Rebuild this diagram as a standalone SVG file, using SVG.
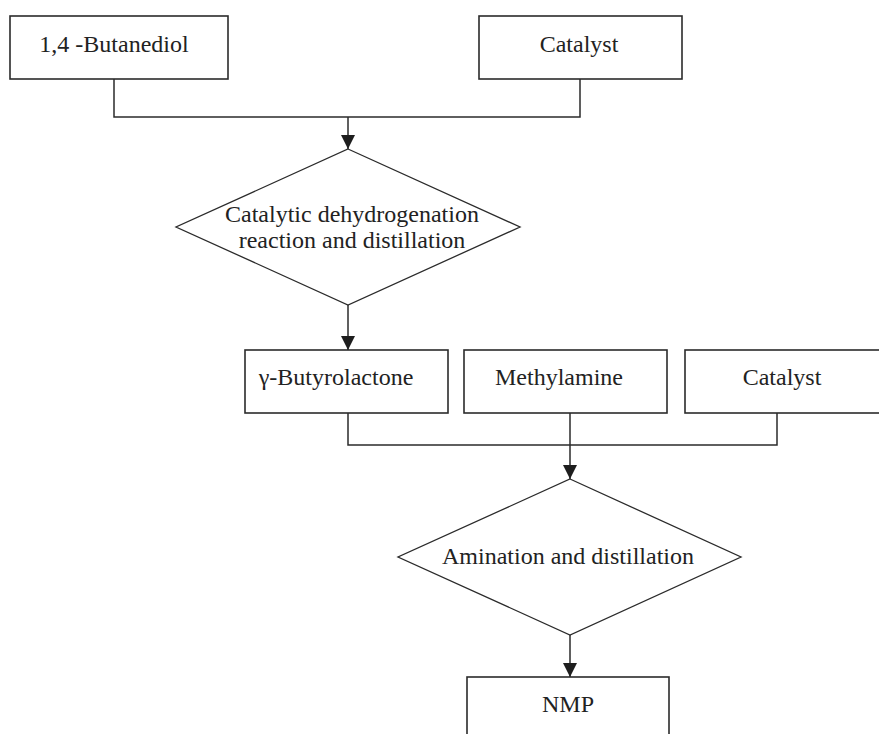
<svg xmlns="http://www.w3.org/2000/svg" width="879" height="734" viewBox="0 0 879 734">
  <style>
    .box { fill: #ffffff; stroke: #2b2b2b; stroke-width: 1.6; }
    .dia { fill: #ffffff; stroke: #2b2b2b; stroke-width: 1.3; }
    .lbl { font-family: "Liberation Serif", "Times New Roman", serif; font-size: 24px; fill: #222222; text-anchor: middle; }
    .wire { fill: none; stroke: #2b2b2b; stroke-width: 1.5; }
  </style>
  <defs>
    <marker id="arrow" markerUnits="userSpaceOnUse" markerWidth="14" markerHeight="17" refX="14" refY="7" orient="auto" viewBox="0 0 14 14">
      <path d="M0,0 L14,7 L0,14 Z" fill="#1e1e1e"/>
    </marker>
  </defs>
  <rect width="879" height="734" fill="#ffffff"/>

  <!-- connectors -->
  <g id="connectors">
    <polyline class="wire" points="114,79 114,117 580,117 580,79"/>
    <line class="wire" x1="348" y1="117" x2="348" y2="149" marker-end="url(#arrow)"/>
    <line class="wire" x1="348" y1="305" x2="348" y2="350" marker-end="url(#arrow)"/>
    <polyline class="wire" points="348,413 348,445 777,445 777,413"/>
    <line class="wire" x1="570" y1="413" x2="570" y2="445"/>
    <line class="wire" x1="570" y1="445" x2="570" y2="479" marker-end="url(#arrow)"/>
    <line class="wire" x1="570" y1="635" x2="570" y2="677" marker-end="url(#arrow)"/>
  </g>

  <!-- feed materials -->
  <g id="butanediol">
    <rect class="box" x="10" y="16" width="218" height="63"/>
    <text class="lbl" x="114" y="52">1,4 -Butanediol</text>
  </g>
  <g id="catalyst1">
    <rect class="box" x="479" y="16" width="203" height="63"/>
    <text class="lbl" x="579" y="52">Catalyst</text>
  </g>

  <!-- first process step -->
  <g id="dehydrogenation">
    <polygon class="dia" points="348,149 520,227 348,305 176,227"/>
    <text class="lbl" x="352" y="222">Catalytic dehydrogenation</text>
    <text class="lbl" x="352" y="248">reaction and distillation</text>
  </g>

  <!-- intermediate and reagents -->
  <g id="gbl">
    <rect class="box" x="245" y="350" width="203" height="63"/>
    <text class="lbl" x="336" y="385">γ-Butyrolactone</text>
  </g>
  <g id="methylamine">
    <rect class="box" x="464" y="350" width="203" height="63"/>
    <text class="lbl" x="559" y="385">Methylamine</text>
  </g>
  <g id="catalyst2">
    <rect class="box" x="685" y="350" width="200" height="63"/>
    <text class="lbl" x="782" y="385">Catalyst</text>
  </g>

  <!-- second process step -->
  <g id="amination">
    <polygon class="dia" points="570,479 741,557 570,635 398,557"/>
    <text class="lbl" x="568" y="564">Amination and distillation</text>
  </g>

  <!-- product -->
  <g id="nmp">
    <rect class="box" x="467" y="677" width="202" height="63"/>
    <text class="lbl" x="568" y="712">NMP</text>
  </g>
</svg>
